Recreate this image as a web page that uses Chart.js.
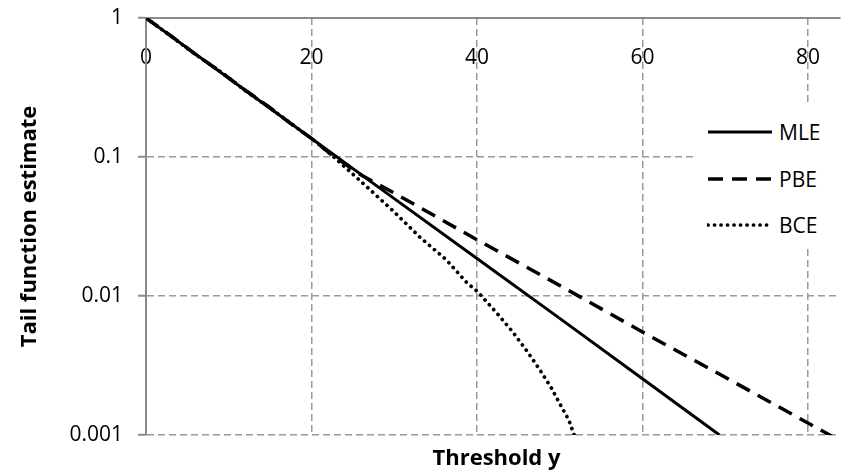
<!DOCTYPE html>
<html>
<head>
<meta charset="utf-8">
<script src="https://cdn.jsdelivr.net/npm/chart.js@4"></script>
<style>
    html, body { margin: 0; padding: 0; background: #fff; }
    #wrap { position: relative; width: 847px; height: 473px; overflow: hidden; }
    #xTitle {
        position: absolute; left: 146px; width: 701px; top: 441px;
        text-align: center; font: bold 22px "Open Sans", sans-serif; color: #000;
    }
    #legend {
        position: absolute; left: 695px; top: 102px; width: 148px; height: 143px;
        background: #fff; font: 21px "Open Sans", sans-serif; color: #000;
    }
    #legend .item { position: absolute; left: 12px; height: 26px; display: flex; align-items: center; }
    #legend svg { margin-right: 6px; }
</style>
</head>
<body>
<div id="wrap">
    <canvas id="chart" width="847" height="473"></canvas>
    <div id="xTitle">Threshold y</div>
    <div id="legend"></div>
</div>
<script>
// Tail estimates (x = threshold, y = tail function)
const mleX = [0, 10, 20, 30, 40, 50, 60, 69.3];
const mleY = [1, 0.369, 0.136, 0.0502, 0.0186, 0.0069, 0.00254, 0.001];

const pbeX = [0, 3, 6, 9, 12, 15, 18, 20, 22.4, 26, 30, 40, 50, 60, 70, 80, 84];
const pbeY = [1, 0.745, 0.548, 0.41, 0.302, 0.226, 0.165, 0.136, 0.104, 0.0741, 0.055, 0.0254, 0.0119, 0.00551, 0.0026, 0.00122, 0.0009];

const bceX = [0, 3, 6, 9, 12, 15, 18, 20, 22.4, 23.5, 27.1, 30, 33.1, 36.3, 38.7, 40.1, 42.6, 44.3, 46.1, 47.6, 49, 50.2, 51.1, 51.7, 52];
const bceY = [1, 0.74, 0.545, 0.412, 0.3, 0.225, 0.166, 0.136, 0.104, 0.0906, 0.058, 0.0402, 0.0265, 0.0182, 0.0126, 0.0107, 0.0073, 0.00553, 0.00397, 0.00294, 0.00217, 0.0016, 0.00128, 0.00102, 0.0009];

const xTicks = [0, 20, 40, 60, 80];
const yTicks = [1, 0.1, 0.01, 0.001];

const axisGray = '#8a8a8a';
const gridGray = '#9a9a9a';
const tickFont = { family: '"Open Sans", sans-serif', size: 21 };

function pts(xs, ys) {
    return xs.map((x, i) => ({ x: x, y: ys[i] }));
}

const datasets = [
    { label: 'MLE', data: pts(mleX, mleY), borderColor: '#000', borderWidth: 3, dash: [] },
    { label: 'PBE', data: pts(pbeX, pbeY), borderColor: '#000', borderWidth: 3.5, borderDash: [15, 9], dash: [15, 9] },
    { label: 'BCE', data: pts(bceX, bceY), borderColor: '#000', borderWidth: 3.7, borderDash: [0.1, 6.4], borderCapStyle: 'round', dash: [0.1, 6.4] }
];
datasets.forEach(d => { d.pointRadius = 0; d.fill = false; d.tension = 0; });

const chart = new Chart(document.getElementById('chart'), {
    type: 'line',
    data: { datasets: datasets },
    options: {
        responsive: false,
        animation: false,
        layout: { padding: { top: 18, right: 0, bottom: 38, left: 0 } },
        plugins: { legend: { display: false }, tooltip: { enabled: false } },
        scales: {
            x: {
                type: 'linear',
                position: { y: 1 },
                min: 0,
                max: 83.8,
                afterBuildTicks: (scale) => { scale.ticks = xTicks.map(v => ({ value: v })); },
                afterFit: (scale) => { scale.paddingTop = 0; scale.paddingBottom = 0; },
                ticks: { font: tickFont, color: '#000', padding: 27, maxRotation: 0 },
                grid: { color: gridGray, lineWidth: 1.5, drawTicks: false },
                border: { display: true, color: axisGray, width: 2, dash: [7, 4] }
            },
            y: {
                type: 'logarithmic',
                min: 0.001,
                max: 1,
                afterBuildTicks: (scale) => { scale.ticks = yTicks.map(v => ({ value: v })); },
                afterFit: (scale) => { scale.width = 146; scale.paddingTop = 0; scale.paddingBottom = 0; },
                ticks: {
                    font: tickFont, color: '#000', padding: 15,
                    callback: (v) => String(v)
                },
                grid: { color: gridGray, lineWidth: 1.5, tickLength: 8, tickColor: axisGray, tickWidth: 2 },
                border: { display: true, color: axisGray, width: 2, dash: [7, 4] },
                title: {
                    display: true,
                    text: 'Tail function estimate',
                    color: '#000',
                    font: { family: '"Open Sans", sans-serif', size: 22, weight: 'bold' },
                    padding: { top: 17, bottom: 0 }
                }
            }
        }
    }
});

// legend drawn in HTML, styled from the datasets
const legendTops = [119, 166, 212];
const legend = document.getElementById('legend');
chart.data.datasets.forEach((d, i) => {
    const item = document.createElement('div');
    item.className = 'item';
    item.style.top = (legendTops[i] - 102) + 'px';
    const cap = d.borderCapStyle === 'round' ? 'round' : 'butt';
    item.innerHTML =
        '<svg width="66" height="10"><line x1="1" y1="5" x2="65" y2="5" stroke="#000" stroke-width="' +
        d.borderWidth + '" stroke-linecap="' + cap + '" stroke-dasharray="' + d.dash.join(' ') + '"/></svg>' +
        '<span>' + d.label + '</span>';
    legend.appendChild(item);
});
</script>
</body>
</html>
